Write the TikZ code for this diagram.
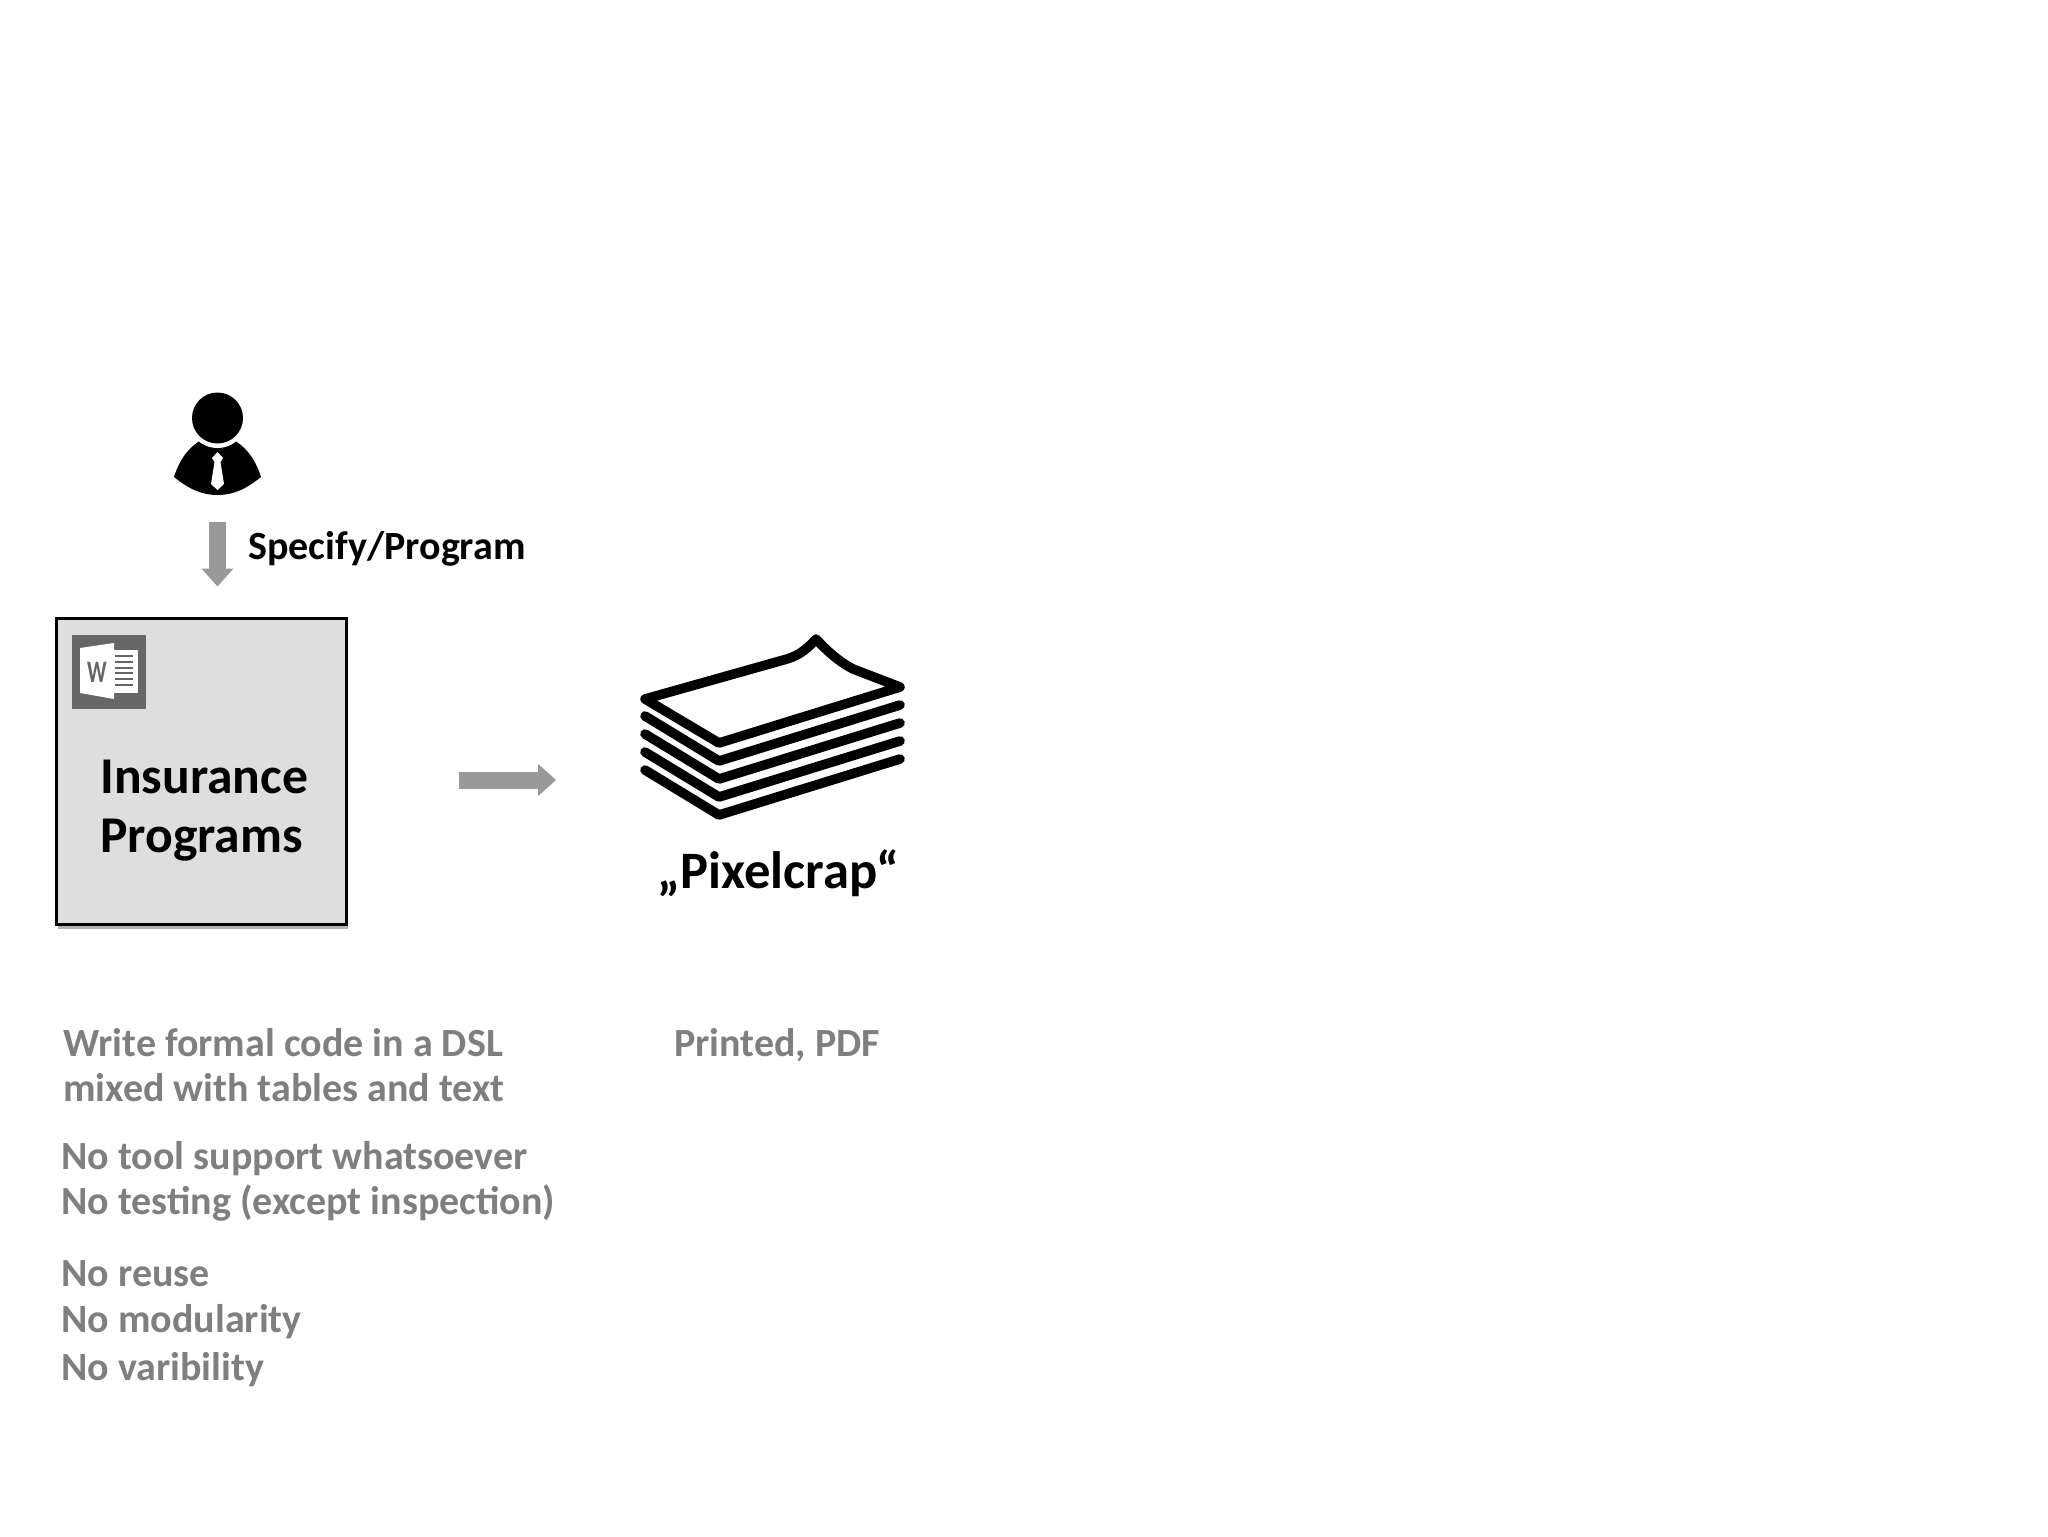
\documentclass[tikz,border=0pt]{standalone}
\usepackage{fontspec}
\setmainfont{Carlito}
\usetikzlibrary{calc}
\usetikzlibrary{shadows}
\usetikzlibrary{arrows.meta}
\tikzset{
  titletext/.style={font=\fontsize{25.8}{25.8}\bfseries\selectfont,text=black,inner sep=0pt,anchor=base west},
  notetext/.style={font=\fontsize{20}{20}\bfseries\selectfont,text=notegray,inner sep=0pt,anchor=base west},
  flowarrow/.style={draw=arrowgray,line width=8.5pt,line cap=butt,-{Triangle[length=9pt,width=15.5pt]}},
  sheet/.style={draw=black,line width=4.8pt,line join=round,line cap=round}
}
\definecolor{notegray}{HTML}{7F7F7F}
\definecolor{arrowgray}{HTML}{999999}
\definecolor{boxgray}{HTML}{DEDEDE}
\definecolor{icongray}{HTML}{666666}
\begin{document}
\begin{tikzpicture}[x=0.5pt,y=-0.5pt]
        \useasboundingbox (0,0) rectangle (2048,1536);
        % the person on top
        \node[minimum width=43.5pt,minimum height=51.5pt,inner sep=0pt] (person) at (217.5,443.5) {};
        \fill[black] (174,477) .. controls (180,458) and (190,446) .. (203,439) -- (232,439)
            .. controls (245,446) and (255,458) .. (261,477) .. controls (245,490) and (232,495) .. (217.5,495)
            .. controls (203,495) and (190,490) .. (174,477) -- cycle;
        \fill[white] (217.5,418) circle[radius=30];
        \fill[black] (217.5,418) circle[radius=25.5];
        \fill[white] (217.5,452) -- (223,458) -- (220.5,462) -- (224,484) -- (217.5,490) -- (211,484)
            -- (214.5,462) -- (212,458) -- cycle;
        % the box with the word icon
        \node[draw=black,line width=1.5pt,fill=boxgray,drop shadow={shadow xshift=1pt,shadow yshift=-2.5pt,opacity=0.3,fill=black},
            minimum width=145pt,minimum height=153pt,inner sep=0pt] (box) at (201,771) {};
        \node[fill=icongray,minimum size=37pt,inner sep=0pt] (wordicon) at (109,671.5) {};
        \fill[white] (114,643) -- (114,699) -- (80,693) -- (80,648) -- cycle;
        \fill[white] (114,650) -- (138,650) -- (138,693) -- (114,693) -- cycle;
        \foreach \ypos in {656,662,668,673,679,685} {
            \draw[icongray,line width=0.75pt] (115,\ypos) -- (133,\ypos);
        }
        \node[inner sep=0pt,text=icongray,font=\fontsize{12}{12}\bfseries\selectfont] (wordletter) at (97,672) {\scalebox{.9}[1.3]{W}};
        \node[titletext] (insurance) at (100,793) {Insurance};
        \node[titletext] (programs) at (100,852) {Programs};
        % the stack of papers
        \node[minimum width=132.5pt,minimum height=92.5pt,inner sep=0pt] (papers) at (772,727) {};
        \draw[sheet] (645,699) -- (787,659) .. controls (800,655) and (808,648) .. (816,639)
            .. controls (826,650) and (838,661) .. (853,669) -- (900,687) -- (719,743) -- cycle;
        \foreach \offset in {18,36,54,72} {
            \draw[sheet] (645,698+\offset) -- (719,743+\offset) -- (900,687+\offset);
        }
        \node[font=\fontsize{26.3}{26.3}\bfseries\selectfont,inner sep=0pt,anchor=base west] (pixelcrap) at (657,888) {„Pixelcrap“};
        % the arrows
        \coordinate (flowline) at (500,780);
        \draw[flowarrow,shorten <=13.5pt,shorten >=15pt] (person.south) -- (person.south |- box.north);
        \draw[flowarrow,shorten <=55.5pt,shorten >=41.5pt] (box.east |- flowline) -- (papers.west |- flowline);
        \node[font=\fontsize{20}{20}\bfseries\selectfont,inner sep=0pt,anchor=base west] (specify) at (248,559) {Specify/Program};
        % the notes below
        \node[notetext] (write) at (63,1056) {Write formal code in a DSL};
        \node[notetext] (mixed) at (63,1101) {mixed with tables and text};
        \node[notetext] (tool) at (61,1169) {No tool support whatsoever};
        \node[notetext] (testing) at (61,1214) {No testing (except inspection)};
        \node[notetext] (reuse) at (61,1286) {No reuse};
        \node[notetext] (modularity) at (61,1332) {No modularity};
        \node[notetext] (varibility) at (61,1380) {No varibility};
        \node[notetext] (printed) at (674,1056) {Printed, PDF};
    \end{tikzpicture}
\end{document}
